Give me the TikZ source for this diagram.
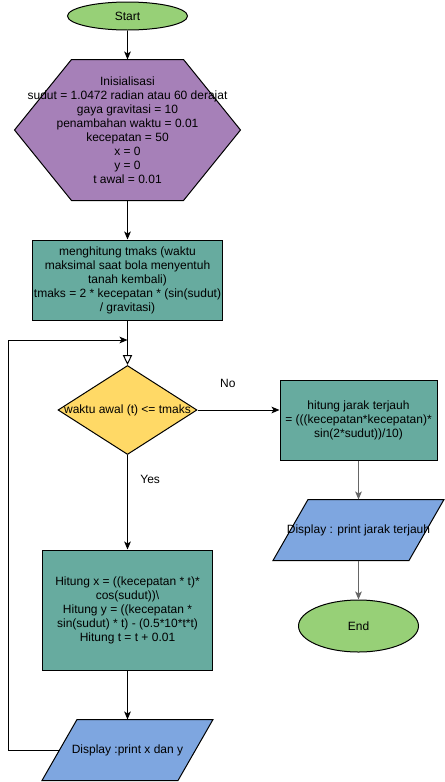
\documentclass[tikz,border=0pt]{standalone}
\usepackage{fontspec}
\setmainfont{Liberation Sans}
\usetikzlibrary{shapes.geometric,arrows.meta,backgrounds}

\definecolor{termgreen}{HTML}{97D077}
\definecolor{initpurple}{HTML}{A680B8}
\definecolor{procteal}{HTML}{67AB9F}
\definecolor{condyellow}{HTML}{FFD966}
\definecolor{ioblue}{HTML}{7EA6E0}

\begin{document}
\begin{tikzpicture}[x=0.75pt,y=0.75pt,yscale=-1,xscale=1,
  font=\fontsize{9}{10.5}\selectfont,
  terminal/.style={ellipse, draw, fill=termgreen, minimum width=90pt, inner sep=0pt},
  process/.style={rectangle, draw, fill=procteal, inner sep=0pt, align=center},
  decision/.style={diamond, draw, fill=condyellow, inner sep=0pt},
  io/.style={minimum width=127.5pt, minimum height=45pt, inner sep=0pt},
  arr/.style={line width=0.75pt, -{Stealth[length=6pt,width=5pt,inset=1.5pt]}},
  every node/.append style={line width=0.75pt}
]
\useasboundingbox (0,0) rectangle (444,782);

%Shape: Ellipse [start]
\node (start) at (127.5,16) [terminal, minimum height=21pt] {Start};
%Shape: Hexagon [init]
\node (init) at (127.5,130) [minimum width=168.75pt, minimum height=105pt, inner sep=0pt, align=center]
  {Inisialisasi\\ sudut = 1.0472 radian atau 60 derajat\\ gaya gravitasi = 10\\ penambahan waktu = 0.01\\
   kecepatan = 50\\ x = 0\\ y = 0\\ t awal = 0.01};
%Shape: Rectangle [tmaks]
\node (tmaks) at (127.5,280) [process, minimum width=142.5pt, minimum height=60pt]
  {menghitung tmaks (waktu\\ maksimal saat bola menyentuh\\ tanah kembali)\\ tmaks = 2 * kecepatan * (sin(sudut)\\ / gravitasi)};
%Shape: Diamond [cond]
\node (cond) at (127.5,410) [decision, minimum width=104.25pt, minimum height=66.75pt,
  label={center:{waktu awal (t) <= tmaks}}] {};
%Shape: Rectangle [jarak]
\node (jarak) at (358.5,420) [process, minimum width=117.75pt, minimum height=60pt]
  {hitung jarak terjauh\\ = (((kecepatan*kecepatan)*\\ sin(2*sudut))/10)};
%Shape: Rectangle [hitung]
\node (hitung) at (127.5,610) [process, minimum width=127.5pt, minimum height=90pt]
  {Hitung x = ((kecepatan * t)*\\ cos(sudut))\textbackslash\\ Hitung y = ((kecepatan *\\ sin(sudut) * t) - (0.5*10*t*t)\\ Hitung t = t + 0.01};
%Shape: Parallelogram [dispxy]
\node (dispxy) at (127.5,750) [io] {Display :print x dan y};
%Shape: Parallelogram [dispjarak]
\node (dispjarak) at (358.5,530) [io] {Display : print jarak terjauh};
%Shape: Ellipse [end]
\node (end) at (358.5,626) [terminal, minimum height=39pt] {End};

\begin{scope}[on background layer]
\draw [line width=0.75pt, fill=initpurple] (init.west) -- ([xshift=42.75pt]init.north west) -- ([xshift=-42.75pt]init.north east)
  -- (init.east) -- ([xshift=-42.75pt]init.south east) -- ([xshift=42.75pt]init.south west) -- cycle ;
\foreach \disp in {dispxy,dispjarak}
  \draw [line width=0.75pt, fill=ioblue] ([xshift=26.25pt]\disp.north west) -- (\disp.north east)
    -- ([xshift=-26.25pt]\disp.south east) -- (\disp.south west) -- cycle ;
\end{scope}

\coordinate (back) at (8,340);
\coordinate (join) at (tmaks.south |- back);
\coordinate (dispside) at ([xshift=13.125pt]dispxy.west);

%Straight Lines
\draw [arr] (start) -- (init);
\draw [arr] (init) -- (tmaks);
\draw [line width=0.75pt, -{Triangle[open,length=7.5pt,width=7pt]}] (tmaks) -- (cond);
\draw [arr] (cond.east) -- (cond.east -| jarak.west) node [pos=0.37, yshift=20] {No};
\draw [arr] (cond) -- (hitung) node [pos=0.26, xshift=17] {Yes};
\draw [arr] (hitung) -- (dispxy);
\draw [arr] (dispside) -| (back) -- (join);
\draw [arr, draw=black!60] (jarak) -- (dispjarak);
\draw [arr, draw=black!60] (dispjarak) -- (end);
\end{tikzpicture}
\end{document}
